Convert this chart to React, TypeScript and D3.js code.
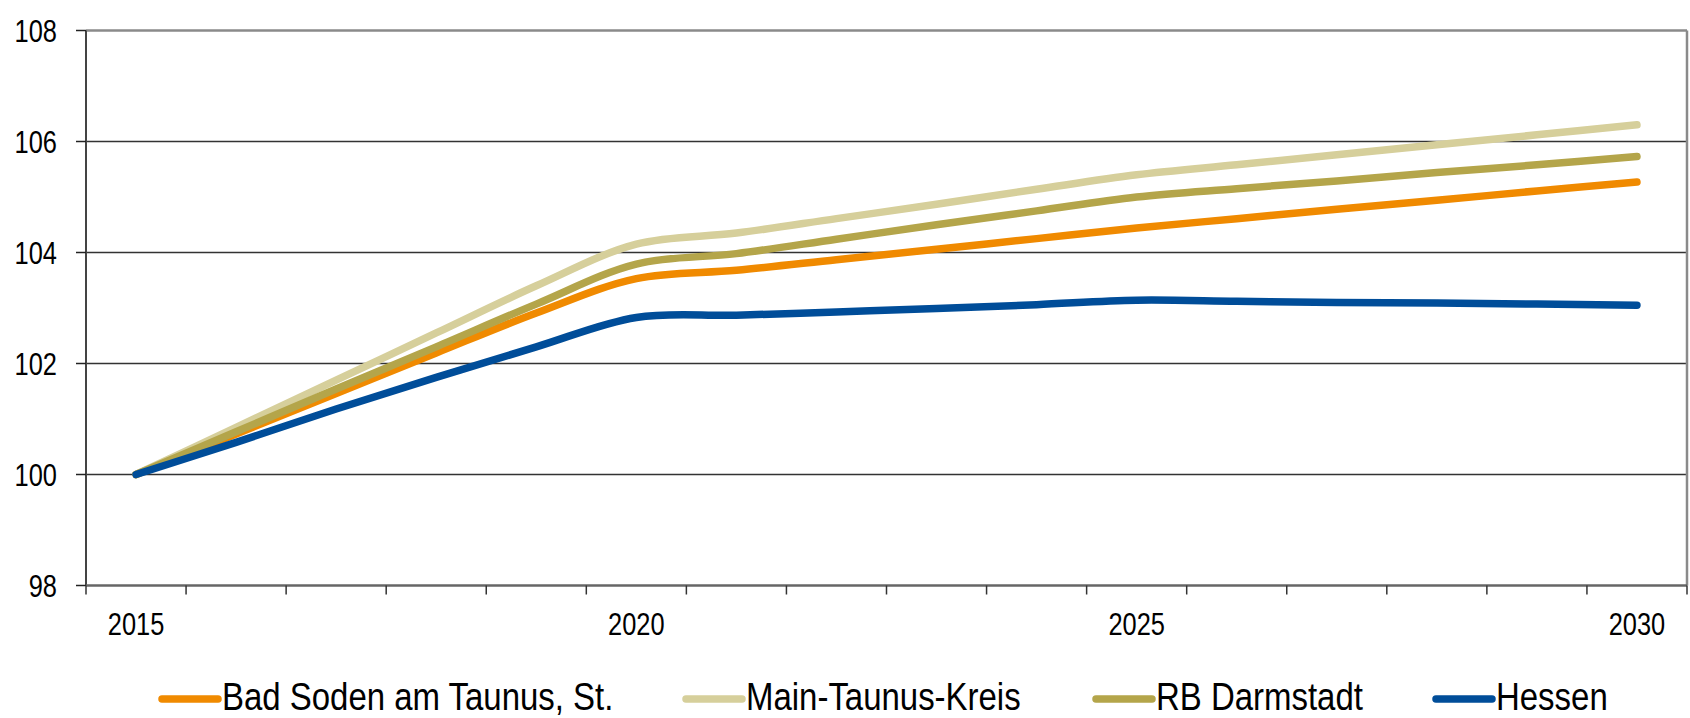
import React, { useEffect, useRef } from 'react';
import * as d3 from 'd3';

const years = d3.range(2015, 2031).map(String);
const yTicks = [98, 100, 102, 104, 106, 108];
const xLabels = ['2015', '2020', '2025', '2030'];

const badSoden = [100, 100.73, 101.46, 102.19, 102.91, 103.53, 103.68, 103.87, 104.06, 104.25, 104.44, 104.61, 104.78, 104.94, 105.11, 105.27];
const mainTaunus = [100, 100.85, 101.7, 102.55, 103.4, 104.15, 104.35, 104.61, 104.87, 105.14, 105.4, 105.58, 105.76, 105.94, 106.12, 106.3];
const rbDarmstadt = [100, 100.77, 101.54, 102.3, 103.07, 103.79, 103.98, 104.24, 104.5, 104.75, 105.0, 105.15, 105.29, 105.44, 105.58, 105.73];
const hessen = [100, 100.58, 101.18, 101.75, 102.3, 102.83, 102.87, 102.93, 102.99, 103.06, 103.14, 103.12, 103.1, 103.09, 103.07, 103.05];

const series = [
  { name: 'Bad Soden am Taunus, St.', values: badSoden, color: '#f08a00' },
  { name: 'Main-Taunus-Kreis', values: mainTaunus, color: '#d6cf9b' },
  { name: 'RB Darmstadt', values: rbDarmstadt, color: '#b4a54a' },
  { name: 'Hessen', values: hessen, color: '#004d99' },
];

// no Arial Narrow installed: squeeze Liberation Sans (Arial metrics) horizontally
const FONT = '"Liberation Sans", Arial, sans-serif';
const NARROW = 0.82;

const App: React.FC = () => {
  const svgRef = useRef<SVGSVGElement>(null);

  useEffect(() => {
    if (!svgRef.current) return;
    const svg = d3.select(svgRef.current);
    svg.selectAll('*').remove();

    const left = 86, right = 1687, top = 30.5, bottom = 585.5;

    const x = d3.scaleBand<string>().domain(years).range([left, right]);
    const y = d3.scaleLinear().domain([98, 108]).range([bottom, top]);
    const cx = (i: number) => (x(years[i]) as number) + x.bandwidth() / 2;

    // gridlines
    svg.append('g')
      .selectAll('line')
      .data(yTicks.filter(t => t > 98 && t < 108))
      .join('line')
      .attr('x1', left).attr('x2', right)
      .attr('y1', d => y(d)).attr('y2', d => y(d))
      .attr('stroke', '#333').attr('stroke-width', 1.3);

    // frame top + right
    svg.append('line').attr('x1', left).attr('x2', right).attr('y1', top).attr('y2', top)
      .attr('stroke', '#8a8a8a').attr('stroke-width', 2.5);
    svg.append('line').attr('x1', right).attr('x2', right).attr('y1', top).attr('y2', bottom)
      .attr('stroke', '#8a8a8a').attr('stroke-width', 2.5);

    // y axis
    svg.append('line').attr('x1', left).attr('x2', left).attr('y1', top).attr('y2', bottom)
      .attr('stroke', '#444').attr('stroke-width', 2);
    svg.append('g')
      .selectAll('line')
      .data(yTicks)
      .join('line')
      .attr('x1', left - 10).attr('x2', left)
      .attr('y1', d => y(d)).attr('y2', d => y(d))
      .attr('stroke', '#222').attr('stroke-width', 1.5);
    svg.append('g')
      .selectAll('text')
      .data(yTicks)
      .join('text')
      .attr('transform', d => `translate(57,${y(d) + 11}) scale(${NARROW},1)`)
      .attr('text-anchor', 'end')
      .attr('font-family', FONT)
      .attr('font-size', 31)
      .attr('fill', '#000')
      .text(d => d);

    // x axis
    svg.append('line').attr('x1', left).attr('x2', right).attr('y1', bottom).attr('y2', bottom)
      .attr('stroke', '#666').attr('stroke-width', 2.5);
    const boundaries = years.map(yr => x(yr) as number).concat([right]);
    svg.append('g')
      .selectAll('line')
      .data(boundaries)
      .join('line')
      .attr('x1', d => d).attr('x2', d => d)
      .attr('y1', bottom).attr('y2', bottom + 9)
      .attr('stroke', '#333').attr('stroke-width', 1.5);
    svg.append('g')
      .selectAll('text')
      .data(xLabels)
      .join('text')
      .attr('transform', d => `translate(${(x(d) as number) + x.bandwidth() / 2},635) scale(${NARROW},1)`)
      .attr('text-anchor', 'middle')
      .attr('font-family', FONT)
      .attr('font-size', 31)
      .attr('fill', '#000')
      .text(d => d);

    // lines
    const line = d3.line<number>()
      .x((_, i) => cx(i))
      .y(d => y(d))
      .curve(d3.curveCatmullRom.alpha(0.5));

    svg.append('g')
      .selectAll('path')
      .data(series)
      .join('path')
      .attr('d', d => line(d.values))
      .attr('fill', 'none')
      .attr('stroke', d => d.color)
      .attr('stroke-width', 7.5)
      .attr('stroke-linecap', 'round')
      .attr('stroke-linejoin', 'round');

    // legend
    const legendX = [162, 686, 1096, 1436];
    const legend = svg.append('g')
      .selectAll('g')
      .data(series)
      .join('g')
      .attr('transform', (_, i) => `translate(${legendX[i]},0)`);
    legend.append('line')
      .attr('x1', 0).attr('x2', 56)
      .attr('y1', 699).attr('y2', 699)
      .attr('stroke', d => d.color)
      .attr('stroke-width', 7.5)
      .attr('stroke-linecap', 'round');
    legend.append('text')
      .attr('transform', `translate(60,710) scale(0.845,1)`)
      .attr('font-family', FONT)
      .attr('font-size', 39)
      .attr('fill', '#000')
      .text(d => d.name);
  }, []);

  return (
    <svg
      ref={svgRef}
      width={1690}
      height={718}
      viewBox="0 0 1690 718"
      style={{ position: 'absolute', left: 0, top: 0, background: '#fff' }}
    />
  );
};

export default App;
